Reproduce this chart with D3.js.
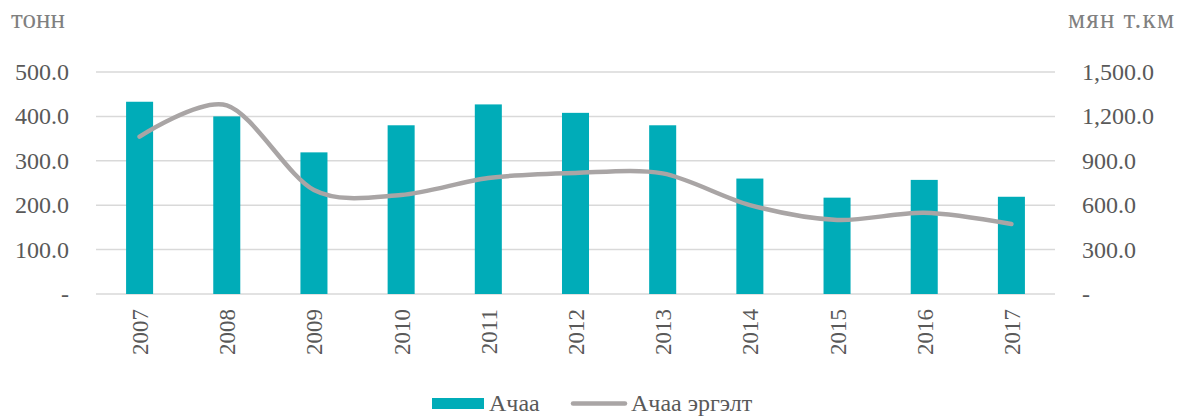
<!DOCTYPE html>
<html>
<head>
<meta charset="utf-8">
<script src="https://cdn.jsdelivr.net/npm/d3@7"></script>
<style>
    body { margin: 0; background: #fff; }
</style>
</head>
<body>
<div id="chart"></div>
<script>
const years = ['2007', '2008', '2009', '2010', '2011', '2012', '2013', '2014', '2015', '2016', '2017'];
const cargo = [433, 400, 319, 380, 427, 408, 380, 260, 217, 257, 219];          // Ачаа, тонн
const turnover = [1063, 1275, 703, 669, 784, 818, 815, 601, 500, 549, 473];     // Ачаа эргэлт, мян т.км
const leftTicks = [0, 100, 200, 300, 400, 500];
const rightTicks = [0, 300, 600, 900, 1200, 1500];

const width = 1179, height = 417;
const margin = { top: 72, right: 124, bottom: 123, left: 96 };
const serif = "'Liberation Serif', 'Times New Roman', serif";

const svg = d3.select('#chart').append('svg')
    .attr('width', width)
    .attr('height', height)
    .style('font-family', serif)

const x = d3.scaleBand()
    .domain(years)
    .range([margin.left, width - margin.right])
    .paddingInner(0.69)
    .paddingOuter(0.345)

const yLeft = d3.scaleLinear().domain([0, 500]).range([height - margin.bottom, margin.top]);
const yRight = d3.scaleLinear().domain([0, 1500]).range([height - margin.bottom, margin.top]);

const fmt = v => v === 0 ? '-' : d3.format(',.1f')(v);

// gridlines
svg.append('g')
    .selectAll('line')
    .data(leftTicks)
    .enter().append('line')
    .attr('x1', margin.left)
    .attr('x2', width - margin.right)
    .attr('y1', d => yLeft(d))
    .attr('y2', d => yLeft(d))
    .style('stroke', '#d9d9d9')
    .style('stroke-width', 1.5)

// left axis labels
svg.append('g')
    .selectAll('text')
    .data(leftTicks)
    .enter().append('text')
    .attr('x', 69)
    .attr('y', d => yLeft(d) + 8)
    .attr('text-anchor', 'end')
    .style('font-size', '24px')
    .style('fill', '#595959')
    .text(fmt)

// right axis labels
svg.append('g')
    .selectAll('text')
    .data(rightTicks)
    .enter().append('text')
    .attr('x', 1082)
    .attr('y', d => yRight(d) + 8)
    .style('font-size', '24px')
    .style('fill', '#595959')
    .text(fmt)

// unit titles
svg.append('text')
    .attr('x', 11).attr('y', 28)
    .style('font-size', '27px')
    .style('fill', '#808080')
    .text('тонн')

svg.append('text')
    .attr('x', 1068).attr('y', 28)
    .attr('textLength', 106)
    .attr('lengthAdjust', 'spacing')
    .style('font-size', '27px')
    .style('fill', '#808080')
    .text('мян т.км')

// bars
svg.append('g')
    .selectAll('rect')
    .data(years)
    .enter().append('rect')
    .attr('x', d => x(d))
    .attr('width', x.bandwidth())
    .attr('y', (d, i) => yLeft(cargo[i]))
    .attr('height', (d, i) => yLeft(0) - yLeft(cargo[i]))
    .style('fill', '#00acb8')

// smoothed line
const line = d3.line()
    .x((d, i) => x(years[i]) + x.bandwidth() / 2)
    .y(d => yRight(d))
    .curve(d3.curveCardinal.tension(0.1))

svg.append('path')
    .datum(turnover)
    .attr('d', line)
    .style('fill', 'none')
    .style('stroke', '#a9a5a5')
    .style('stroke-width', 4.5)
    .style('stroke-linecap', 'round')

// x labels
svg.append('g')
    .selectAll('text')
    .data(years)
    .enter().append('text')
    .attr('transform', d => `translate(${x(d) + x.bandwidth() / 2 + 8.5},309) rotate(-90)`)
    .attr('text-anchor', 'end')
    .style('font-size', '23px')
    .style('fill', '#595959')
    .text(d => d)

// legend
const legend = svg.append('g')
legend.append('rect')
    .attr('x', 432).attr('y', 398)
    .attr('width', 52).attr('height', 11)
    .style('fill', '#00acb8')
legend.append('text')
    .attr('x', 489).attr('y', 411)
    .style('font-size', '24px')
    .style('fill', '#595959')
    .text('Ачаа')
legend.append('line')
    .attr('x1', 573).attr('x2', 625)
    .attr('y1', 403.5).attr('y2', 403.5)
    .style('stroke', '#a9a5a5')
    .style('stroke-width', 4.5)
    .style('stroke-linecap', 'round')
legend.append('text')
    .attr('x', 631).attr('y', 411)
    .style('font-size', '24px')
    .style('fill', '#595959')
    .text('Ачаа эргэлт')
</script>
</body>
</html>
